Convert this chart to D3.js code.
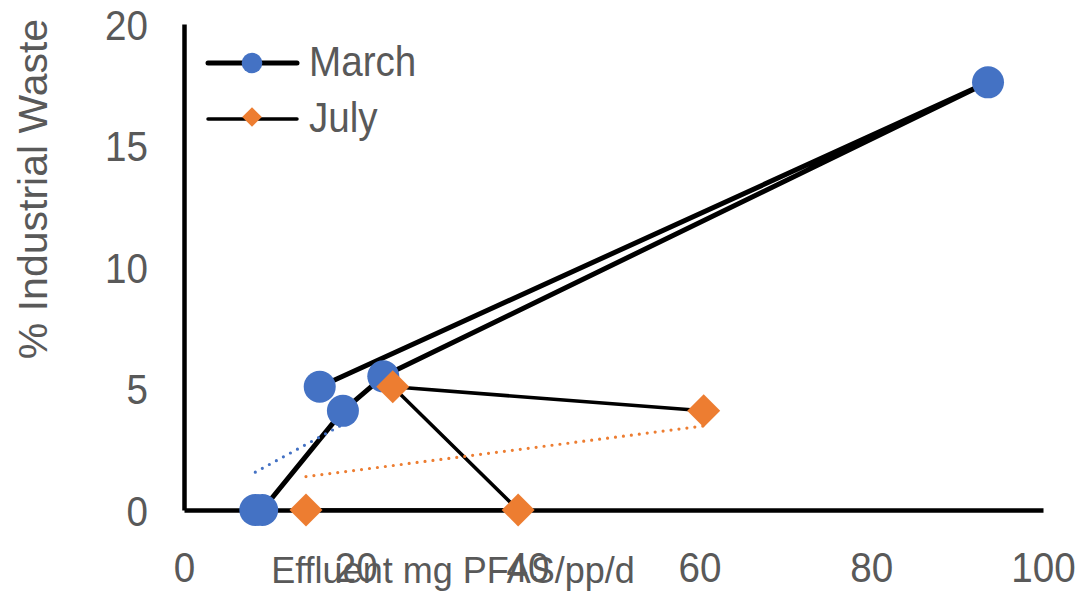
<!DOCTYPE html>
<html>
<head>
<meta charset="utf-8">
<script src="https://cdn.jsdelivr.net/npm/d3@7"></script>
<style>
  html, body { margin: 0; padding: 0; background: #fff; }
  svg { display: block; }
  text { font-family: "Liberation Sans", Arial, sans-serif; fill: #595959; }
</style>
</head>
<body>
<svg id="chart" width="1082" height="593"></svg>
<script>
// Effluent PFAS load vs share of industrial waste
const marchX = [8.3, 9.1, 18.5, 23.2, 93.6, 15.8];
const marchY = [0, 0, 4.08, 5.5, 17.6, 5.07];
const julyX = [14.2, 38.9, 24.3, 60.5];
const julyY = [0, 0, 5.07, 4.08];
// x-extent over which each linear trendline is shown
const marchTrendRange = [8.3, 18.5];
const julyTrendRange = [14.2, 60.5];
const seriesNames = ["March", "July"];
const xTicks = [0, 20, 40, 60, 80, 100];
const yTicks = [0, 5, 10, 15, 20];
const xTitle = "Effluent mg PFAS/pp/d";
const yTitle = "% Industrial Waste";

const BLUE = "#4472C4", ORANGE = "#ED7D31";
const FONT = 42, SQUEEZE = 0.92;
const svg = d3.select("#chart");
const x = d3.scaleLinear().domain([0, 100]).range([184, 1043]);
const y = d3.scaleLinear().domain([0, 20]).range([510, 24]);

const zip = (xs, ys) => xs.map((v, i) => [v, ys[i]]);
const march = zip(marchX, marchY);
const july = zip(julyX, julyY);

// slightly condensed lettering, squeezed about each text's own anchor
function squeeze(sel) {
  sel.each(function () {
    const t = d3.select(this);
    const ax = +(t.attr("x") || 0);
    t.attr("transform", `translate(${ax},0) scale(${SQUEEZE},1) translate(${-ax},0)`);
  });
}

// least-squares fit
function fit(pts) {
  const mx = d3.mean(pts, d => d[0]), my = d3.mean(pts, d => d[1]);
  const sxy = d3.sum(pts, d => (d[0] - mx) * (d[1] - my));
  const sxx = d3.sum(pts, d => (d[0] - mx) ** 2);
  const b = sxy / sxx;
  return v => my + b * (v - mx);
}

// axes
const yAxis = d3.axisLeft(y).tickValues(yTicks).tickSize(0).tickPadding(36);
const xAxis = d3.axisBottom(x).tickValues(xTicks).tickSize(0).tickPadding(42);
const gy = svg.append("g").attr("transform", `translate(${x(0)},0)`).call(yAxis);
const gx = svg.append("g").attr("transform", `translate(0,${y(0)})`).call(xAxis);
[gx, gy].forEach(g => {
  g.select(".domain").attr("stroke", "#000").attr("stroke-width", 4.5);
  g.selectAll("text").attr("font-size", FONT).attr("fill", "#595959")
    .style("font-family", "Liberation Sans, Arial, sans-serif").call(squeeze);
});
gy.selectAll("text").attr("dy", "0.36em");
gx.selectAll("text").attr("dy", "0.71em");

// axis titles
svg.append("text").attr("x", 453).attr("y", 583).attr("text-anchor", "middle")
  .attr("font-size", 36).text(xTitle);
svg.append("text").attr("transform", "translate(47,189) rotate(-90)")
  .attr("text-anchor", "middle").attr("font-size", 41).text(yTitle);

const line = d3.line().x(d => x(d[0])).y(d => y(d[1]));

// series connector lines
svg.append("path").datum(march).attr("d", line)
  .attr("fill", "none").attr("stroke", "#000").attr("stroke-width", 5).attr("stroke-linejoin", "round");
svg.append("path").datum(july).attr("d", line)
  .attr("fill", "none").attr("stroke", "#000").attr("stroke-width", 3.5).attr("stroke-linejoin", "round");

// dotted linear trendlines
[[march, marchTrendRange, BLUE], [july, julyTrendRange, ORANGE]].forEach(([pts, rng, col]) => {
  const f = fit(pts);
  svg.append("path").datum(rng.map(v => [v, f(v)])).attr("d", line)
    .attr("fill", "none").attr("stroke", col).attr("stroke-width", 3.2)
    .attr("stroke-linecap", "round").attr("stroke-dasharray", "0 8");
});

// markers
svg.selectAll("circle.m").data(march).join("circle").attr("class", "m")
  .attr("cx", d => x(d[0])).attr("cy", d => y(d[1])).attr("r", 16).attr("fill", BLUE);
const diamond = s => `M0,${-s}L${s},0L0,${s}L${-s},0Z`;
svg.selectAll("path.j").data(july).join("path").attr("class", "j")
  .attr("transform", d => `translate(${x(d[0])},${y(d[1])})`)
  .attr("d", diamond(16.5)).attr("fill", ORANGE);

// legend
const leg = svg.append("g");
const rows = [
  { name: seriesNames[0], y: 61, w: 5, col: BLUE, shape: "circle" },
  { name: seriesNames[1], y: 117, w: 3.5, col: ORANGE, shape: "diamond" }
];
rows.forEach(r => {
  leg.append("line").attr("x1", 208).attr("x2", 297).attr("y1", r.y + 2).attr("y2", r.y + 2)
    .attr("stroke", "#000").attr("stroke-width", r.w).attr("stroke-linecap", "round");
  if (r.shape === "circle")
    leg.append("circle").attr("cx", 252).attr("cy", r.y + 2).attr("r", 10.3).attr("fill", r.col);
  else
    leg.append("path").attr("transform", `translate(252,${r.y})`).attr("d", diamond(9.8)).attr("fill", r.col);
  leg.append("text").attr("x", 309).attr("y", r.y).attr("dy", "0.36em")
    .attr("font-size", FONT).text(r.name).call(squeeze);
});
</script>
</body>
</html>
